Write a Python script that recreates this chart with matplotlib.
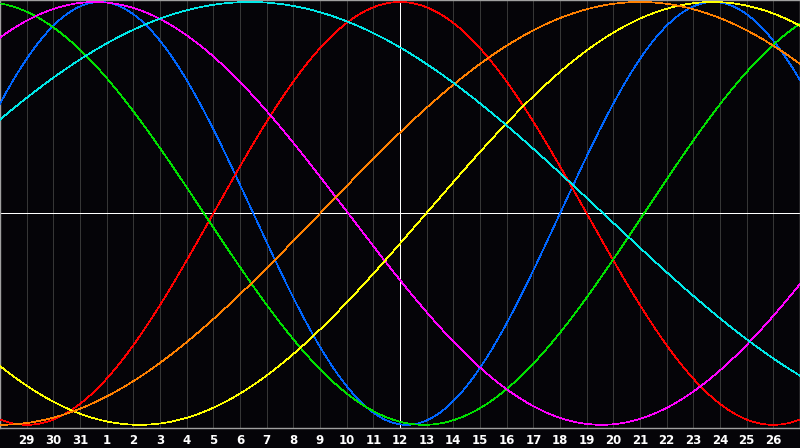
import numpy as np
import matplotlib
matplotlib.use("Agg")
import matplotlib.pyplot as plt

# day labels under the grid lines (index 1..29)
day_labels = ["29", "30", "31", "1", "2", "3", "4", "5", "6", "7", "8", "9", "10",
              "11", "12", "13", "14", "15", "16", "17", "18", "19", "20", "21",
              "22", "23", "24", "25", "26"]
today_index = 15

# cycles: period in days, day index where the cycle crosses zero going up
cycle_names = ["physical", "emotional", "intellectual", "intuitive",
               "aesthetic", "awareness", "spiritual"]
cycle_periods = [23, 28, 33, 38, 43, 48, 53]
cycle_zero_up = [-2.0, 8.0, -8.85, -5.94, 15.98, 12.0, -3.88]
cycle_colors = ["#0066ff", "#ff0000", "#00e000", "#ff00ff",
                "#ffff00", "#ff8000", "#00e8e8"]

bg = "#050408"
fig = plt.figure(figsize=(8, 4.48), dpi=100, facecolor=bg)
ax = fig.add_axes([0, 20 / 448, 1, 428 / 448])
ax.set_facecolor(bg)

n_days = 30
ax.set_xlim(0, n_days)
ax.set_ylim(-1.015, 1.0095)

# day grid
for i in range(1, n_days):
    ax.axvline(i, color="#363636", lw=0.5, zorder=1, antialiased=False)

ax.axhline(0, color="white", lw=0.5, zorder=2, antialiased=False)
ax.axvline(today_index, color="white", lw=0.5, zorder=2, antialiased=False)

t = np.linspace(0, n_days, 1200)
for name, p, z, c in zip(cycle_names, cycle_periods, cycle_zero_up, cycle_colors):
    ax.plot(t, np.sin(2 * np.pi * (t - z) / p), color=c, lw=0.5, zorder=3,
            antialiased=False, label=name)

ax.set_xticks(range(1, n_days))
ax.set_xticklabels(day_labels)
ax.set_yticks([])
ax.tick_params(axis="x", length=0, pad=4, colors="white", labelsize=8.5)
for lab in ax.get_xticklabels():
    lab.set_fontweight("bold")
    lab.set_family("DejaVu Sans")

for s in ax.spines.values():
    s.set_color("#a0a0a0")
    s.set_linewidth(1.0)

fig.savefig("out.png", dpi=100, facecolor=bg)
